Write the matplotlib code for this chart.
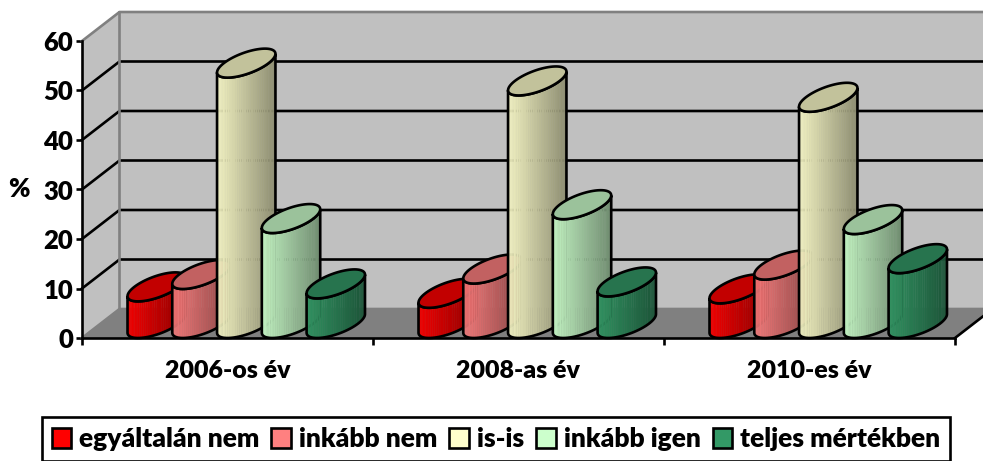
import numpy as np
import matplotlib
matplotlib.use('Agg')
import matplotlib.pyplot as plt
from matplotlib.patches import Patch, Polygon

plt.rcParams['font.family'] = ['Lato', 'DejaVu Sans']
plt.rcParams['font.weight'] = 'bold'

# Data
years = ['2006-os év', '2008-as év', '2010-es év']
series = ['egyáltalán nem', 'inkább nem', 'is-is', 'inkább igen', 'teljes mértékben']
colors = ['#FF0000', '#FF8080', '#FFFFCC', '#CCFFCC', '#339966']
egyaltalan = [7.4, 6.1, 7.0]
inkabb_nem = [9.9, 11.0, 11.8]
is_is = [52.6, 49.0, 45.7]
inkabb_igen = [21.2, 24.0, 21.0]
teljes = [8.0, 8.4, 13.1]
values = [egyaltalan, inkabb_nem, is_is, inkabb_igen, teljes]
yticks = [0, 10, 20, 30, 40, 50, 60]

# Fake 3D depth, in data units
DEPTH_X = 37.5 / 291
DEPTH_Y = 29 / 4.95
BAR_W = 1 / 6.5
LW = 1.9


def proj(x, d, y):
    return x + d * DEPTH_X, y + d * DEPTH_Y


def ellipse(cx, y, t):
    # circle on the floor plane, centred at mid depth
    x0, y0 = proj(cx + BAR_W / 2 * np.cos(t), 0.5 + 0.5 * np.sin(t), y)
    return x0, y0


def draw_cylinder(ax, cx, val, color, z):
    rgb = np.array(matplotlib.colors.to_rgb(color))
    # parameter of the leftmost point of the ellipse
    t0 = np.arctan2(DEPTH_X / 2, BAR_W / 2)
    t = np.linspace(np.pi + t0, 2 * np.pi + t0, 41)
    xb, yb = ellipse(cx, 0, t)
    xt, yt = ellipse(cx, val, t)
    # vertical strips for the shading
    for i in range(len(t) - 1):
        f = (xb[i] + xb[i + 1] - 2 * xb[0]) / 2 / (xb[-1] - xb[0])
        shade = 0.95 - 0.4 * f
        quad = [(xb[i], yb[i]), (xb[i + 1], yb[i + 1]), (xt[i + 1], yt[i + 1]), (xt[i], yt[i])]
        ax.add_patch(Polygon(quad, fc=rgb * shade, ec=rgb * shade, lw=0.3, zorder=z, clip_on=False))
    body = np.r_[np.c_[xb, yb], np.c_[xt, yt][::-1]]
    ax.add_patch(Polygon(body, fc='none', ec='black', lw=LW, zorder=z + 0.1, clip_on=False))
    tt = np.linspace(0, 2 * np.pi, 81)
    xe, ye = ellipse(cx, val, tt)
    ax.add_patch(Polygon(np.c_[xe, ye], fc=rgb * 0.76, ec='black', lw=LW, zorder=z + 0.2, clip_on=False))


fig = plt.figure(figsize=(9.83, 4.61), dpi=100)
ax = fig.add_axes([82 / 983, (461 - 338) / 461, 873 / 983, 297 / 461])
ax.set_xlim(0, 3)
ax.set_ylim(0, 60)
ax.patch.set_visible(False)

# Walls and floor
x_back = [proj(0, 1, 0), proj(3, 1, 0), proj(3, 1, 60), proj(0, 1, 60)]
side = [proj(0, 0, 0), proj(0, 1, 0), proj(0, 1, 60), proj(0, 0, 60)]
floor = [proj(0, 0, 0), proj(3, 0, 0), proj(3, 1, 0), proj(0, 1, 0)]
for pts, c in [(x_back, '#C0C0C0'), (side, '#C0C0C0'), (floor, '#808080')]:
    ax.add_patch(Polygon(pts, fc=c, ec='none', zorder=1, clip_on=False))

# Grid on side wall and back wall
for v in yticks[1:-1]:
    a, b, c = proj(0, 0, v), proj(0, 1, v), proj(3, 1, v)
    ax.plot([a[0], b[0], c[0]], [a[1], b[1], c[1]], color='black', lw=LW, zorder=1.5, clip_on=False)

# Grey wall edges
for v in [0, 60]:
    a, b, c = proj(0, 0, v), proj(0, 1, v), proj(3, 1, v)
    ax.plot([a[0], b[0], c[0]], [a[1], b[1], c[1]], color='#808080', lw=LW, zorder=1.6, clip_on=False)
a, b = proj(0, 1, 0), proj(0, 1, 60)
ax.plot([a[0], b[0]], [a[1], b[1]], color='#808080', lw=LW, zorder=1.6, clip_on=False)
a, b = proj(3, 0, 0), proj(3, 1, 0)
ax.plot([a[0], b[0]], [a[1], b[1]], color='black', lw=LW, zorder=1.7, clip_on=False)

# Bars
z = 3
for g in range(len(years)):
    for s in range(len(series)):
        cx = g + 0.5 + (s - 2) * BAR_W
        draw_cylinder(ax, cx, values[s][g], colors[s], z)
        z += 1

# Axes
for name in ['top', 'right']:
    ax.spines[name].set_visible(False)
for name in ['left', 'bottom']:
    ax.spines[name].set_linewidth(LW)
ax.set_yticks(yticks)
ax.set_xticks([0, 1, 2, 3])
ax.set_xticklabels([])
ax.set_xticks([0.5, 1.5, 2.5], minor=True)
ax.set_xticklabels(years, minor=True, fontsize=18, fontweight='heavy')
ax.tick_params(axis='x', which='major', length=5, width=LW)
ax.tick_params(axis='x', which='minor', length=0, pad=16)
ax.tick_params(axis='y', length=4.5, width=LW, labelsize=18.5, pad=2)
for lab in ax.get_yticklabels():
    lab.set_fontweight('heavy')
ax.set_ylabel('%', rotation=0, fontsize=18.5, fontweight='heavy')
ax.yaxis.set_label_coords(-0.072, 0.46)

# Legend
handles = [Patch(fc=c, ec='black', lw=LW, label=n) for c, n in zip(colors, series)]
leg = fig.legend(handles=handles, ncol=5, loc='center', bbox_to_anchor=(496 / 983, 1 - 439 / 461),
                 frameon=True, fancybox=False, edgecolor='black', framealpha=1,
                 handlelength=0.75, handleheight=0.8, handletextpad=0.3, columnspacing=0.45,
                 borderpad=0.38, borderaxespad=0, prop={'size': 19, 'weight': 'heavy'})
leg.get_frame().set_linewidth(LW)

plt.savefig('out.png', dpi=100)
